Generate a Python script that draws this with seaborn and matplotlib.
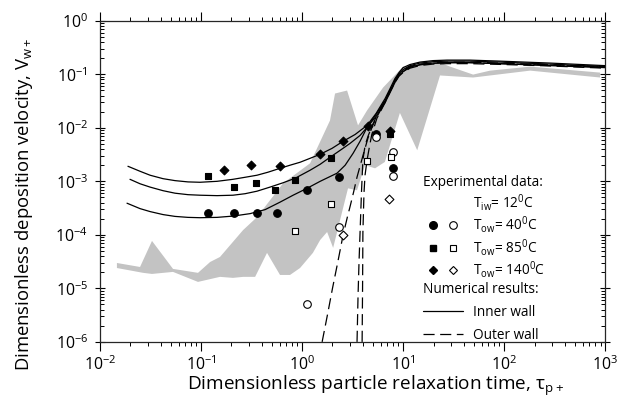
"""Particle deposition velocity versus relaxation time, inner/outer wall."""

import matplotlib

matplotlib.use("Agg")

import matplotlib.pyplot as plt
from matplotlib.legend_handler import HandlerTuple
from matplotlib.lines import Line2D
from matplotlib.ticker import LogLocator, NullFormatter
import seaborn as sns

# gray band of literature data (lower edge left->right, upper edge right->left)
tau_band_lower = [0.0147, 0.0267, 0.0327, 0.0528, 0.0933, 0.154, 0.207, 0.261, 0.343, 0.45,
                  0.605, 0.76, 0.955, 1.28, 1.51, 1.77, 2.03, 2.38, 2.85, 3.5, 4.2, 5.28,
                  6.6, 9.3, 13.8, 23.2, 49.3, 181, 891]
vw_band_lower = [2.4e-5, 1.95e-5, 1.86e-5, 2.03e-5, 1.32e-5, 1.64e-5, 1.57e-5, 1.64e-5, 1.64e-5, 4.6e-5,
                 1.78e-5, 1.78e-5, 2.4e-5, 4.6e-5, 8.0e-5, 1.13e-4, 5.7e-5, 1.9e-4, 7.4e-4, 6.8e-4, 2.0e-3, 1.75e-3,
                 2.3e-3, 1.9e-2, 3.8e-3, 0.095, 0.087, 0.117, 0.087]
tau_band_upper = [891, 181, 72.6, 49.3, 29.2, 23.2, 10.0, 6.34, 4.4, 3.58, 2.79, 2.12, 1.89, 1.2,
                  0.649, 0.358, 0.261, 0.154, 0.123, 0.0933, 0.0528, 0.0327, 0.0249, 0.0147]
vw_band_upper = [0.1075, 0.139, 0.117, 0.0987, 0.139, 0.165, 0.139, 0.0565, 0.0211, 0.0111, 0.0497, 0.0437, 0.0137, 2.17e-3,
                 9.2e-4, 2.14e-4, 1.23e-4, 3.86e-5, 3.11e-5, 1.95e-5, 2.31e-5, 7.7e-5, 2.51e-5, 2.98e-5]

# numerical results, inner wall (solid)
tau_inner_140 = [0.0189, 0.0249, 0.0313, 0.0421, 0.0553, 0.0743, 0.0977, 0.144, 0.207, 0.273, 0.358,
                 0.46, 0.605, 0.76, 0.955, 1.2, 1.51, 1.98, 2.55, 3.35, 4.4, 5.4, 6.64, 7.43, 8.3,
                 9.12, 10, 11.7, 14.7, 19.8, 27.3, 46, 91, 285, 1000]
vw_inner_140 = [1.91e-3, 1.54e-3, 1.30e-3, 1.12e-3, 1.03e-3, 9.75e-4, 9.6e-4, 1.0e-3, 1.09e-3, 1.19e-3, 1.30e-3,
                1.48e-3, 1.75e-3, 2.0e-3, 2.27e-3, 2.69e-3, 3.2e-3, 4.13e-3, 5.6e-3, 7.5e-3, 0.0111, 0.0185, 0.0353, 0.054, 0.083,
                0.108, 0.133, 0.152, 0.169, 0.18, 0.184, 0.184, 0.176, 0.162, 0.145]
tau_inner_85 = [0.0198, 0.0249, 0.0313, 0.0421, 0.0553, 0.0743, 0.0977, 0.144, 0.207, 0.273, 0.358,
                0.482, 0.649, 0.853, 1.2, 1.51, 1.89, 2.38, 2.98, 3.75, 4.4, 5.4, 6.64, 7.43, 8.3,
                9.12, 10, 11.7, 14.7, 19.8, 27.3, 46, 91, 285, 1000]
vw_inner_85 = [1.09e-3, 9.0e-4, 7.8e-4, 6.68e-4, 6.0e-4, 5.63e-4, 5.5e-4, 5.4e-4, 5.5e-4, 5.87e-4, 6.54e-4,
               7.8e-4, 9.4e-4, 1.14e-3, 1.61e-3, 2.08e-3, 2.81e-3, 3.79e-3, 5.1e-3, 7.2e-3, 0.0102, 0.0178, 0.0324, 0.0497, 0.076,
               0.103, 0.122, 0.145, 0.162, 0.172, 0.176, 0.176, 0.169, 0.155, 0.139]
tau_inner_40 = [0.0185, 0.0249, 0.0313, 0.0421, 0.0553, 0.0743, 0.0977, 0.144, 0.207, 0.306, 0.431,
                0.605, 0.815, 1.12, 1.51, 2.22, 2.67, 3.2, 3.75, 4.4, 5.4, 6.64, 7.43, 8.3,
                9.12, 10, 11.7, 14.7, 19.8, 27.3, 46, 91, 285, 1000]
vw_inner_40 = [3.9e-4, 3.09e-4, 2.72e-4, 2.39e-4, 2.21e-4, 2.12e-4, 2.09e-4, 2.12e-4, 2.24e-4, 2.49e-4, 2.96e-4,
               4.08e-4, 5.5e-4, 7.4e-4, 1.0e-3, 1.42e-3, 2.0e-3, 3.34e-3, 5.6e-3, 0.0102, 0.0163, 0.0297, 0.0456, 0.07,
               0.0946, 0.112, 0.136, 0.152, 0.162, 0.165, 0.165, 0.158, 0.145, 0.133]

# numerical results, outer wall (dashed)
tau_outer_40 = [1.58, 1.8, 2.0, 2.25, 2.55, 2.8, 3.0, 3.25, 3.5, 4.0, 4.5, 5.0, 5.5, 6.6, 7.4, 8.3,
                9.1, 10, 11.7, 14.7, 19.8, 27.3, 46, 91, 285, 1000]
vw_outer_40 = [1e-6, 3.5e-6, 1.0e-5, 3e-5, 1.0e-4, 2.1e-4, 3.5e-4, 6.5e-4, 1.2e-3, 3.0e-3, 6.5e-3, 0.011, 0.016,
               0.03, 0.048, 0.074, 0.097, 0.113, 0.135, 0.15, 0.16, 0.165, 0.165, 0.158, 0.148, 0.136]
tau_outer_85 = [3.5, 3.58, 3.66, 3.75, 3.87, 4.0, 4.2, 4.5, 5.0, 5.5, 6.6, 7.4, 8.3, 9.1, 10, 11.7,
                14.7, 19.8, 27.3, 46, 91, 285, 1000]
vw_outer_85 = [1e-6, 7e-6, 3e-5, 1.1e-4, 6e-4, 2.5e-3, 4.6e-3, 7e-3, 0.0115, 0.017, 0.032, 0.05, 0.077, 0.1, 0.118, 0.14,
               0.155, 0.163, 0.168, 0.168, 0.162, 0.15, 0.14]
tau_outer_140 = [3.93, 3.97, 4.0, 4.1, 4.2, 4.4, 4.65, 4.9, 5.5, 6.6, 7.4, 8.3, 9.1, 10, 11.7,
                 14.7, 19.8, 27.3, 46, 91, 285, 1000]
vw_outer_140 = [1e-6, 1.0e-5, 1.1e-4, 6e-4, 1.3e-3, 2.5e-3, 4.5e-3, 7.5e-3, 0.015, 0.029, 0.046, 0.07, 0.092, 0.108, 0.13,
                0.146, 0.155, 0.158, 0.158, 0.153, 0.143, 0.13]

# experimental data, inner wall (filled) and outer wall (open)
tau_exp_in_40 = [0.117, 0.21, 0.36, 0.56, 1.12, 2.32, 5.4, 8.0]
vw_exp_in_40 = [2.6e-4, 2.6e-4, 2.6e-4, 2.6e-4, 6.8e-4, 1.2e-3, 7.5e-3, 1.8e-3]
tau_exp_in_85 = [0.117, 0.21, 0.35, 0.54, 0.85, 1.94, 7.5]
vw_exp_in_85 = [1.24e-3, 7.8e-4, 9.5e-4, 6.8e-4, 1.05e-3, 2.7e-3, 7.5e-3]
tau_exp_in_140 = [0.17, 0.31, 0.6, 1.5, 2.55, 4.5, 7.4]
vw_exp_in_140 = [1.6e-3, 2.0e-3, 1.9e-3, 3.3e-3, 5.6e-3, 0.011, 8.9e-3]
tau_exp_out_40 = [1.12, 2.32, 5.4, 8.0, 8.0]
vw_exp_out_40 = [5.1e-6, 1.4e-4, 6.6e-3, 3.6e-3, 1.25e-3]
tau_exp_out_85 = [0.85, 1.94, 4.4, 7.6]
vw_exp_out_85 = [1.2e-4, 3.7e-4, 2.4e-3, 2.9e-3]
tau_exp_out_140 = [2.55, 7.3]
vw_exp_out_140 = [1.0e-4, 4.6e-4]

TEMP_LABELS = ["T$_{\\mathrm{ow}}$= 40$^{\\mathrm{0}}$C",
               "T$_{\\mathrm{ow}}$= 85$^{\\mathrm{0}}$C",
               "T$_{\\mathrm{ow}}$= 140$^{\\mathrm{0}}$C"]
BAND_COLOR = "#c3c3c3"
DASHES = (0, (8, 4))
LEG_SIZE = 9.8


def setup_style() -> None:
    sns.set_theme(style="ticks")
    plt.rcParams.update(
        {
            "font.family": ["Open Sans", "DejaVu Sans"],
            "mathtext.fontset": "custom",
            "mathtext.rm": "Open Sans",
            "mathtext.it": "Open Sans:italic",
            "mathtext.bf": "Open Sans:bold",
            "axes.unicode_minus": False,
            "lines.scale_dashes": False,
            "axes.linewidth": 0.9,
            "text.color": "black",
            "axes.labelcolor": "black",
            "xtick.color": "black",
            "ytick.color": "black",
        }
    )


def main() -> None:
    setup_style()
    fig = plt.figure(figsize=(6.33, 4.07), dpi=100)
    ax = fig.add_axes([0.158, 0.160, 0.798, 0.789])
    ax.set_xscale("log")
    ax.set_yscale("log")

    ax.fill(tau_band_lower + tau_band_upper, vw_band_lower + vw_band_upper,
            color=BAND_COLOR, linewidth=0, zorder=1)

    for tau, vw in [(tau_inner_140, vw_inner_140), (tau_inner_85, vw_inner_85), (tau_inner_40, vw_inner_40)]:
        sns.lineplot(x=tau, y=vw, sort=False, estimator=None, color="black",
                     linewidth=0.9, ax=ax, zorder=3)
    for tau, vw in [(tau_outer_40, vw_outer_40), (tau_outer_85, vw_outer_85), (tau_outer_140, vw_outer_140)]:
        sns.lineplot(x=tau, y=vw, sort=False, estimator=None, color="black",
                     linewidth=0.9, linestyle=DASHES, ax=ax, zorder=3)

    marker_sets = [
        (tau_exp_in_40, vw_exp_in_40, "o", 30, "black"),
        (tau_exp_in_85, vw_exp_in_85, "s", 24, "black"),
        (tau_exp_in_140, vw_exp_in_140, "D", 20, "black"),
        (tau_exp_out_40, vw_exp_out_40, "o", 30, "white"),
        (tau_exp_out_85, vw_exp_out_85, "s", 24, "white"),
        (tau_exp_out_140, vw_exp_out_140, "D", 20, "white"),
    ]
    for tau, vw, marker, size, face in marker_sets:
        sns.scatterplot(x=tau, y=vw, marker=marker, s=size, color=face,
                        edgecolor="black", linewidth=0.8, ax=ax, zorder=4)

    ax.set_xlim(1e-2, 1e3)
    ax.set_ylim(1e-6, 1e0)
    ax.xaxis.set_major_locator(LogLocator(base=10, numticks=10))
    ax.xaxis.set_minor_locator(LogLocator(base=10, subs=range(2, 10), numticks=20))
    ax.yaxis.set_major_locator(LogLocator(base=10, numticks=10))
    ax.yaxis.set_minor_locator(LogLocator(base=10, subs=range(2, 10), numticks=20))
    ax.xaxis.set_minor_formatter(NullFormatter())
    ax.yaxis.set_minor_formatter(NullFormatter())
    ax.tick_params(axis="x", which="major", direction="out", length=6.5, width=0.8,
                   top=True, labelsize=11.5, pad=3)
    ax.tick_params(axis="x", which="minor", direction="out", length=3.2, width=0.7, top=True)
    ax.tick_params(axis="y", which="major", direction="inout", length=7, width=0.8,
                   right=True, labelsize=11.5, pad=5)
    ax.tick_params(axis="y", which="minor", direction="in", length=3.2, width=0.7, right=True)

    ax.set_xlabel("Dimensionless particle relaxation time, τ$_{\\mathrm{p+}}$", fontsize=13.7)
    ax.set_ylabel("Dimensionless deposition velocity, V$_{\\mathrm{w+}}$", fontsize=13.3)
    ax.xaxis.set_label_coords(0.545, -0.1)
    ax.yaxis.set_label_coords(-0.128, 0.427)

    blank = Line2D([], [], linestyle="none")
    marker_pairs = []
    for marker, ms in [("o", 5.5), ("s", 5), ("D", 4.5)]:
        filled = Line2D([], [], linestyle="none", marker=marker, markersize=ms,
                        markerfacecolor="black", markeredgecolor="black")
        hollow = Line2D([], [], linestyle="none", marker=marker, markersize=ms,
                        markerfacecolor="white", markeredgecolor="black", markeredgewidth=0.8)
        marker_pairs.append((filled, hollow))

    common = dict(
        alignment="left",
        loc="upper left",
        frameon=False,
        fontsize=LEG_SIZE,
        title_fontsize=LEG_SIZE,
        handlelength=2.94,
        handletextpad=0.73,
        borderpad=0,
        borderaxespad=0,
    )
    leg_exp = ax.legend(
        handles=[blank] + marker_pairs,
        labels=["T$_{\\mathrm{iw}}$= 12$^{\\mathrm{0}}$C"] + TEMP_LABELS,
        title="Experimental data:",
        handler_map={tuple: HandlerTuple(ndivide=None, pad=0)},
        bbox_to_anchor=(0.64, 0.52),
        labelspacing=0.12,
        **common,
    )
    ax.add_artist(leg_exp)

    solid = Line2D([], [], color="black", linewidth=0.9)
    dashed = Line2D([], [], color="black", linewidth=0.9, linestyle=DASHES)
    ax.legend(
        handles=[solid, dashed],
        labels=["Inner wall", "Outer wall"],
        title="Numerical results:",
        bbox_to_anchor=(0.64, 0.186),
        labelspacing=0.58,
        **common,
    )

    fig.savefig("out.png", dpi=100)
    plt.close(fig)


if __name__ == "__main__":
    main()
